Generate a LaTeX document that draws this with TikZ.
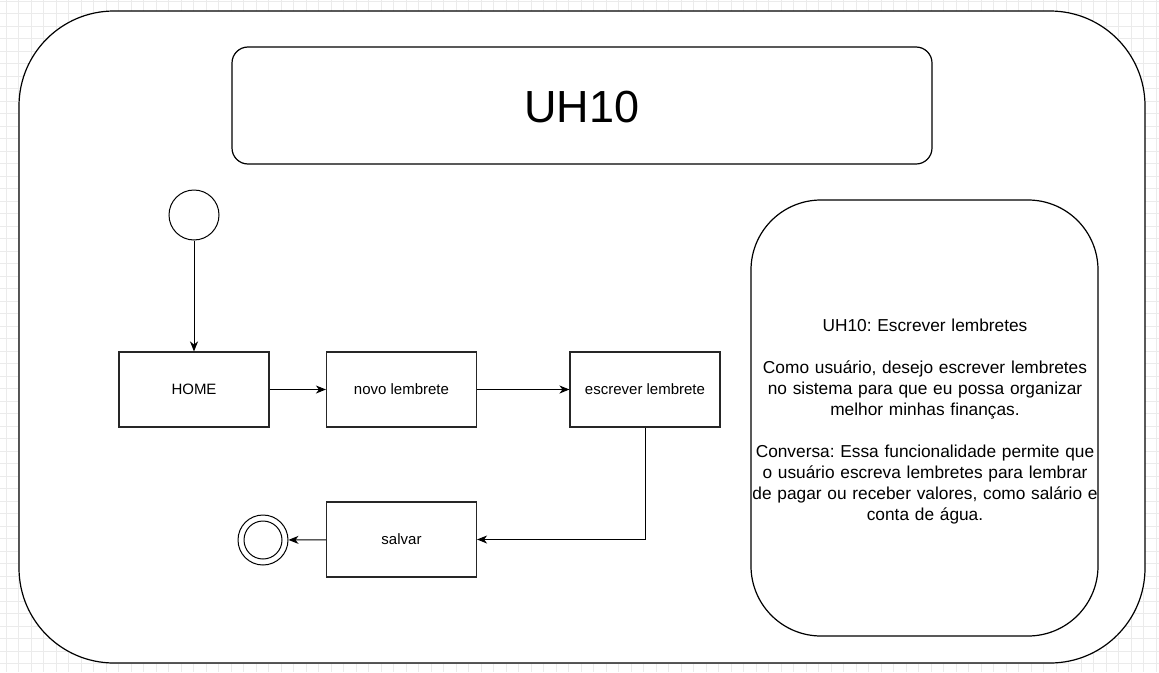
\documentclass[tikz,border=0pt]{standalone}
\usepackage{fontspec}
\setmainfont{Liberation Sans}
\usetikzlibrary{arrows.meta}
\begin{document}
\frenchspacing
\begin{tikzpicture}[x=1pt,y=-1pt,
  line width=1pt,
  every node/.style={font=\fontsize{15}{18}\selectfont},
  stepbox/.style={draw=black!85, rectangle, minimum width=150pt, minimum height=75pt, inner sep=0pt, line width=1.1pt},
  flow/.style={-{Stealth[length=10pt,width=8pt,inset=3pt]}, line width=1pt},
  gridline/.style={draw=black!8, line width=0.6pt}
]
\useasboundingbox (0,0) rectangle (1159,672);
\fill[white] (0,0) rectangle (1159,672);
\foreach \i in {0,...,92} { \draw[gridline] (6+12.5*\i,0) -- (6+12.5*\i,672); }
\foreach \j in {0,...,54} { \draw[gridline] (0,0.8+12.5*\j) -- (1159,0.8+12.5*\j); }

% outer container
\draw[fill=white, rounded corners=95pt, line width=1.2pt] (19,11) rectangle (1145,663);
% title
\draw[rounded corners=16pt, line width=1.2pt] (232,47) rectangle (932,164);
\node[font=\fontsize{45}{54}\selectfont] (title) at (582,107) {UH10};

% description box
\draw[fill=white, rounded corners=70pt, line width=1.2pt] (751,200) rectangle (1098,636);
\node[align=center, font=\fontsize{17.3}{21}\selectfont, text width=350pt] (desc) at (925,421.5)
{UH10: Escrever lembretes\\[21pt]
Como usuário, desejo escrever lembretes\\no sistema para que eu possa organizar\\melhor minhas finanças.\\[21pt]
Conversa: Essa funcionalidade permite que\\o usuário escreva lembretes para lembrar\\de pagar ou receber valores, como salário e\\conta de água.};

% flow
\node[draw, circle, minimum size=50pt, inner sep=0pt, line width=1pt] (start) at (194,215) {};
\node[stepbox] (home) at (194,389.5) {HOME};
\node[stepbox] (novo) at (401.5,389.5) {novo lembrete};
\node[stepbox] (escr) at (645,389.5) {escrever lembrete};
\node[stepbox] (salvar) at (401.5,539.5) {salvar};
\node[draw, circle, minimum size=50pt, inner sep=0pt, line width=1pt] (endo) at (263,540) {};
\node[draw, circle, minimum size=38pt, inner sep=0pt, line width=1pt] (endi) at (263,540) {};

\draw[flow] (start) -- (home);
\draw[flow] (home) -- (novo);
\draw[flow] (novo) -- (escr);
\draw[flow] (escr.south) |- (salvar.east);
\draw[flow] (salvar) -- (endo);
\end{tikzpicture}
\end{document}
